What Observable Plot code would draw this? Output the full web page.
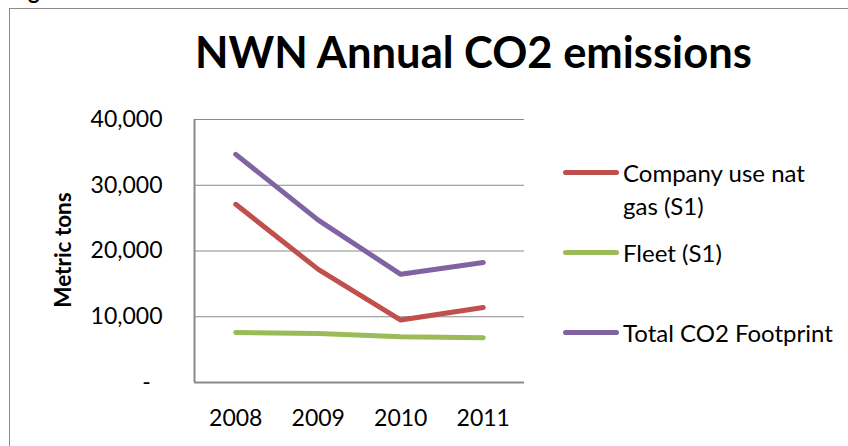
<!DOCTYPE html>
<html>
<head>
<meta charset="utf-8">
<script src="https://cdn.jsdelivr.net/npm/d3@7"></script>
<script src="https://cdn.jsdelivr.net/npm/@observablehq/plot@0.6"></script>
<style>
  html, body { margin: 0; padding: 0; background: #fff; overflow: hidden; }
  #root { position: relative; width: 848px; height: 446px; overflow: hidden; font-family: Lato, "Open Sans", sans-serif; color: #000; }
  #frame { position: absolute; left: 9px; top: 8px; width: 900px; height: 500px; border-left: 1.5px solid #8a8a8a; border-top: 1.5px solid #8a8a8a; }
  #fig { position: absolute; left: 10px; top: -23px; font-size: 22px; font-weight: bold; }
  #title { position: absolute; left: 195px; top: 25px; font-size: 43.5px; font-weight: bold; white-space: nowrap; }
  #ylabel { position: absolute; left: 62px; top: 250px; transform: translate(-50%, -50%) rotate(-90deg); font-size: 22.5px; font-weight: bold; white-space: nowrap; }
  #chart { position: absolute; left: 0; top: 90px; }
  .leg { position: absolute; left: 563px; display: flex; align-items: flex-start; font-size: 24px; line-height: 33px; }
  .sw { width: 56px; height: 5px; border-radius: 3px; margin-top: 14px; margin-right: 4px; flex: none; }
</style>
</head>
<body>
<div id="root">
  <div id="frame"></div>
  <div id="fig">Figure</div>
  <div id="title">NWN Annual CO2 emissions</div>
  <div id="ylabel">Metric tons</div>
  <div id="chart"></div>
  <div id="legend"></div>
</div>
<script>
const years = [2008, 2009, 2010, 2011];
const seriesNames = ["Company use nat gas (S1)", "Fleet (S1)", "Total CO2 Footprint"];
const companyGas = [27100, 17200, 9500, 11400];
const fleet = [7600, 7450, 6950, 6800];
const totalFootprint = [34700, 24700, 16450, 18250];
const yTicks = [0, 10000, 20000, 30000, 40000];
const colors = ["#C0504D", "#9BBB59", "#8064A2"];

const valueArrays = [companyGas, fleet, totalFootprint];
const data = [];
seriesNames.forEach((name, i) => {
  years.forEach((yr, j) => data.push({series: name, year: yr, value: valueArrays[i][j]}));
});

const W = 548, H = 350;
const chart = Plot.plot({
  width: W,
  height: H,
  marginLeft: 194,
  marginRight: W - 524,
  marginTop: 29,
  marginBottom: H - 292,
  style: { fontFamily: "Lato, 'Open Sans', sans-serif", fontSize: "23px", color: "#000", background: "transparent" },
  x: { domain: [2007.5, 2011.5], ticks: years, tickFormat: d => String(d), label: null },
  y: { domain: [0, 40000], ticks: yTicks, label: null },
  color: { domain: seriesNames, range: colors },
  marks: [
    Plot.gridY(yTicks.filter(d => d > 0), { stroke: "#8a8a8a", strokeOpacity: 1, strokeWidth: 1.2 }),
    Plot.ruleY([0], { stroke: "#8a8a8a", strokeWidth: 2 }),
    Plot.ruleX([2007.5], { stroke: "#8a8a8a", strokeWidth: 2 }),
    Plot.axisY({ ticks: yTicks, tickSize: 0, tickPadding: 32, fill: "#000",
      tickFormat: d => d === 0 ? "-\u00a0\u00a0" : d3.format(",")(d), label: null }),
    Plot.axisX({ ticks: years, tickSize: 0, tickPadding: 27, fill: "#000", tickFormat: d => String(d), label: null }),
    Plot.line(data, { x: "year", y: "value", z: "series", stroke: "series", strokeWidth: 5, strokeLinecap: "round", strokeLinejoin: "round" })
  ]
});
document.getElementById("chart").appendChild(chart);

const legend = document.getElementById("legend");
const legendTops = [156, 236, 316];
const legendLabels = [["Company use nat", "gas (S1)"], ["Fleet (S1)"], ["Total CO2 Footprint"]];
seriesNames.forEach((name, i) => {
  const row = document.createElement("div");
  row.className = "leg";
  row.style.top = legendTops[i] + "px";
  const sw = document.createElement("div");
  sw.className = "sw";
  sw.style.background = colors[i];
  const txt = document.createElement("div");
  txt.innerHTML = legendLabels[i].join("<br>");
  row.appendChild(sw);
  row.appendChild(txt);
  legend.appendChild(row);
});
</script>
</body>
</html>
